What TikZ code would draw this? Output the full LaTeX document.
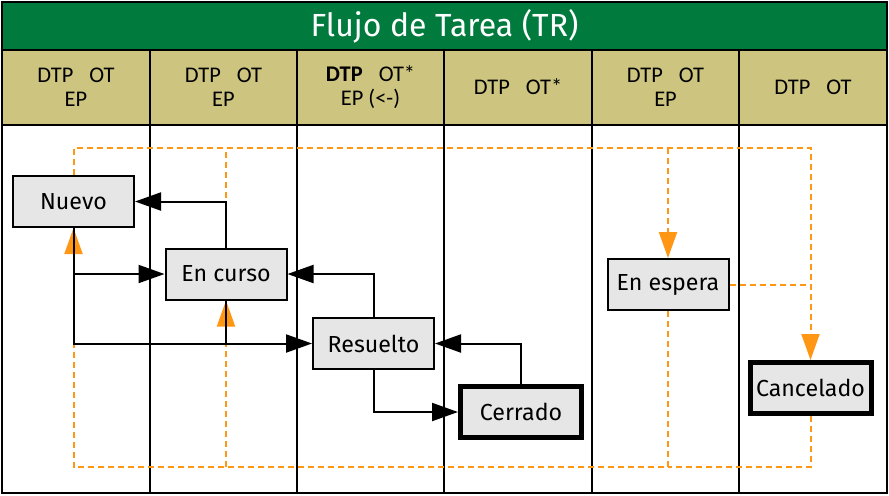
\documentclass[tikz,border=0pt]{standalone}
\usepackage{fontspec}
\setmainfont{Fira Sans}
\newfontfamily\hdrfont{Carlito}
\usetikzlibrary{arrows.meta}

\definecolor{titlegreen}{RGB}{0,122,61}
\definecolor{headkhaki}{RGB}{204,196,127}
\definecolor{boxgray}{RGB}{230,230,230}
\definecolor{optorange}{RGB}{255,150,20}

\tikzset{
  state/.style={draw, line width=1pt, fill=boxgray, inner sep=0pt,
    minimum width=60.5pt, minimum height=25.5pt,
    font=\fontsize{11.6}{13}\selectfont},
  endstate/.style={state, line width=2.5pt},
  hdr/.style={align=center, font=\hdrfont\fontsize{11.2}{12}\selectfont},
  flow/.style={line width=1pt, -{Triangle[length=13pt,width=9pt]}},
  link/.style={line width=1pt},
  opt/.style={draw=optorange, line width=1pt, dash pattern=on 3pt off 2pt},
  opttip/.style={opt, -{Triangle[length=13pt,width=9pt,color=optorange]}}
}

\begin{document}
\begin{tikzpicture}[x=0.5pt, y=-0.5pt]
  \useasboundingbox (0,0) rectangle (889,495);

  % --- title and header bands ---
  \fill[titlegreen] (2,2) rectangle (887,50);
  \fill[headkhaki] (2,50) rectangle (887,125);
  \node[text=white, font=\fontsize{16}{18}\selectfont] (title) at (444.5,26) {Flujo de Tarea (TR)};

  % --- lanes ---
  \foreach \x in {150,297,444,592,739} {
    \draw[line width=0.6pt] (\x,50) -- (\x,493);
  }
  \draw[line width=0.8pt] (2,50) -- (887,50);
  \draw[line width=0.8pt] (2,125) -- (887,125);
  \draw[line width=1pt] (2,2) rectangle (887,493);

  % --- lane headers ---
  \node[hdr] (h1) at (76,87)    {DTP\hspace{8pt}OT\\EP};
  \node[hdr] (h2) at (223.5,87) {DTP\hspace{8pt}OT\\EP};
  \node[hdr] (h3) at (370.5,87) {\textbf{DTP}\hspace{8pt}OT*\\EP (<-)};
  \node[hdr] (h4) at (518,87)   {DTP\hspace{8pt}OT*};
  \node[hdr] (h5) at (665.5,87) {DTP\hspace{8pt}OT\\EP};
  \node[hdr] (h6) at (813,87)   {DTP\hspace{8pt}OT};

  % --- states ---
  \node[state] (nuevo) at (73.5,201.5) {Nuevo};
  \node[state] (encurso) at (226,274) {En curso};
  \node[state] (resuelto) at (373.5,343.5) {Resuelto};
  \node[endstate] (cerrado) at (521,412) {Cerrado};
  \node[state] (enespera) at (668,284.5) {En espera};
  \node[endstate] (cancelado) at (810.5,388) {Cancelado};

  \coordinate (top) at (0,148);
  \coordinate (bot) at (0,467);

  % --- hold / cancel paths (dashed) ---
  \draw[opttip] (nuevo.north) -- (nuevo.north |- top) -| (cancelado.north);
  \draw[opt] (encurso.north) -- (encurso.north |- top);
  \draw[opttip] (enespera.north |- top) -- (enespera.north);
  \draw[opt] (enespera.east) -- (enespera.east -| cancelado.north);
  \draw[opttip] (enespera.south) -- (enespera.south |- bot) -| (nuevo.south);
  \draw[opt] (cancelado.south) |- (enespera.south |- bot);
  \draw[opttip] (encurso.south |- bot) -- (encurso.south);

  % --- main flow ---
  \draw[flow] (encurso.north) |- (nuevo.east);
  \draw[flow] (nuevo.south) |- (encurso.west);
  \draw[flow] (nuevo.south) |- (resuelto.west);
  \draw[link] (encurso.south) -- (encurso.south |- resuelto.west);
  \draw[flow] (resuelto.north) |- (encurso.east);
  \draw[flow] (resuelto.south) |- (cerrado.west);
  \draw[flow] (cerrado.north) |- (resuelto.east);
\end{tikzpicture}
\end{document}
